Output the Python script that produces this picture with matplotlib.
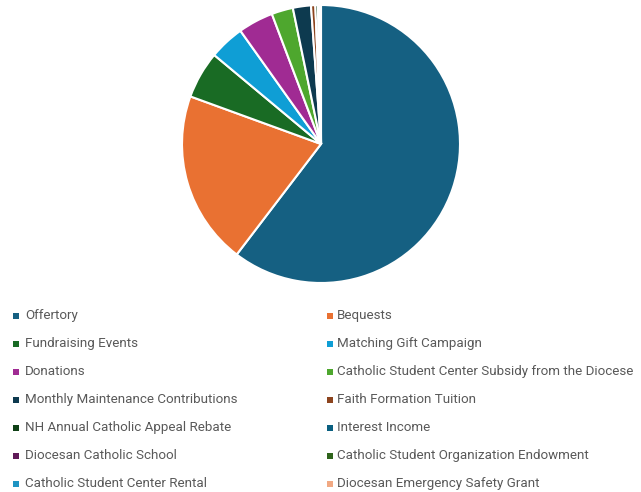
import matplotlib
matplotlib.use("Agg")
import matplotlib.pyplot as plt
from matplotlib.patches import Rectangle

categories = ["Offertory", "Bequests", "Fundraising Events", "Matching Gift Campaign",
              "Donations", "Catholic Student Center Subsidy from the Diocese",
              "Monthly Maintenance Contributions", "Faith Formation Tuition",
              "NH Annual Catholic Appeal Rebate", "Interest Income",
              "Diocesan Catholic School", "Catholic Student Organization Endowment",
              "Catholic Student Center Rental", "Diocesan Emergency Safety Grant"]
values = [60.4, 20.2, 5.5, 4.1, 4.1, 2.5, 2.1, 0.5, 0.3, 0.1, 0.1, 0.05, 0.05, 0.05]
colors = ["#156082", "#E97132", "#196B24", "#0F9ED5", "#A02B93", "#4EA72E",
          "#0D3A4F", "#8C441E", "#0F4016", "#095F80", "#601A58", "#2F641C",
          "#1F94C3", "#F1A983"]

W, H = 641, 492
fig = plt.figure(figsize=(W/100, H/100), dpi=100)
cx, cy, r = 321, 144, 139
ax = fig.add_axes([(cx - r)/W, 1 - (cy + r)/H, 2*r/W, 2*r/H])
ax.pie(values, colors=colors, startangle=90, counterclock=False,
       wedgeprops=dict(edgecolor="white", linewidth=1.5))
ax.set_xlim(-1, 1)
ax.set_ylim(-1, 1)
ax.set_aspect("equal")
ax.axis("off")

col_marker_x = [13, 327]
col_text_x = [25, 337]
row_y0, row_dy = 315.5, 28
for i, (lab, c) in enumerate(zip(categories, colors)):
    col, row = i % 2, i // 2
    y = row_y0 + row*row_dy
    fig.add_artist(Rectangle((col_marker_x[col]/W, 1 - (y + 3)/H), 6/W, 6/H,
                             transform=fig.transFigure, facecolor=c, edgecolor="none"))
    fig.text(col_text_x[col]/W, 1 - y/H, lab, fontsize=9.6, color="#595959",
             family="Roboto", va="center", ha="left")

fig.savefig("out.png", dpi=100, facecolor="white")
